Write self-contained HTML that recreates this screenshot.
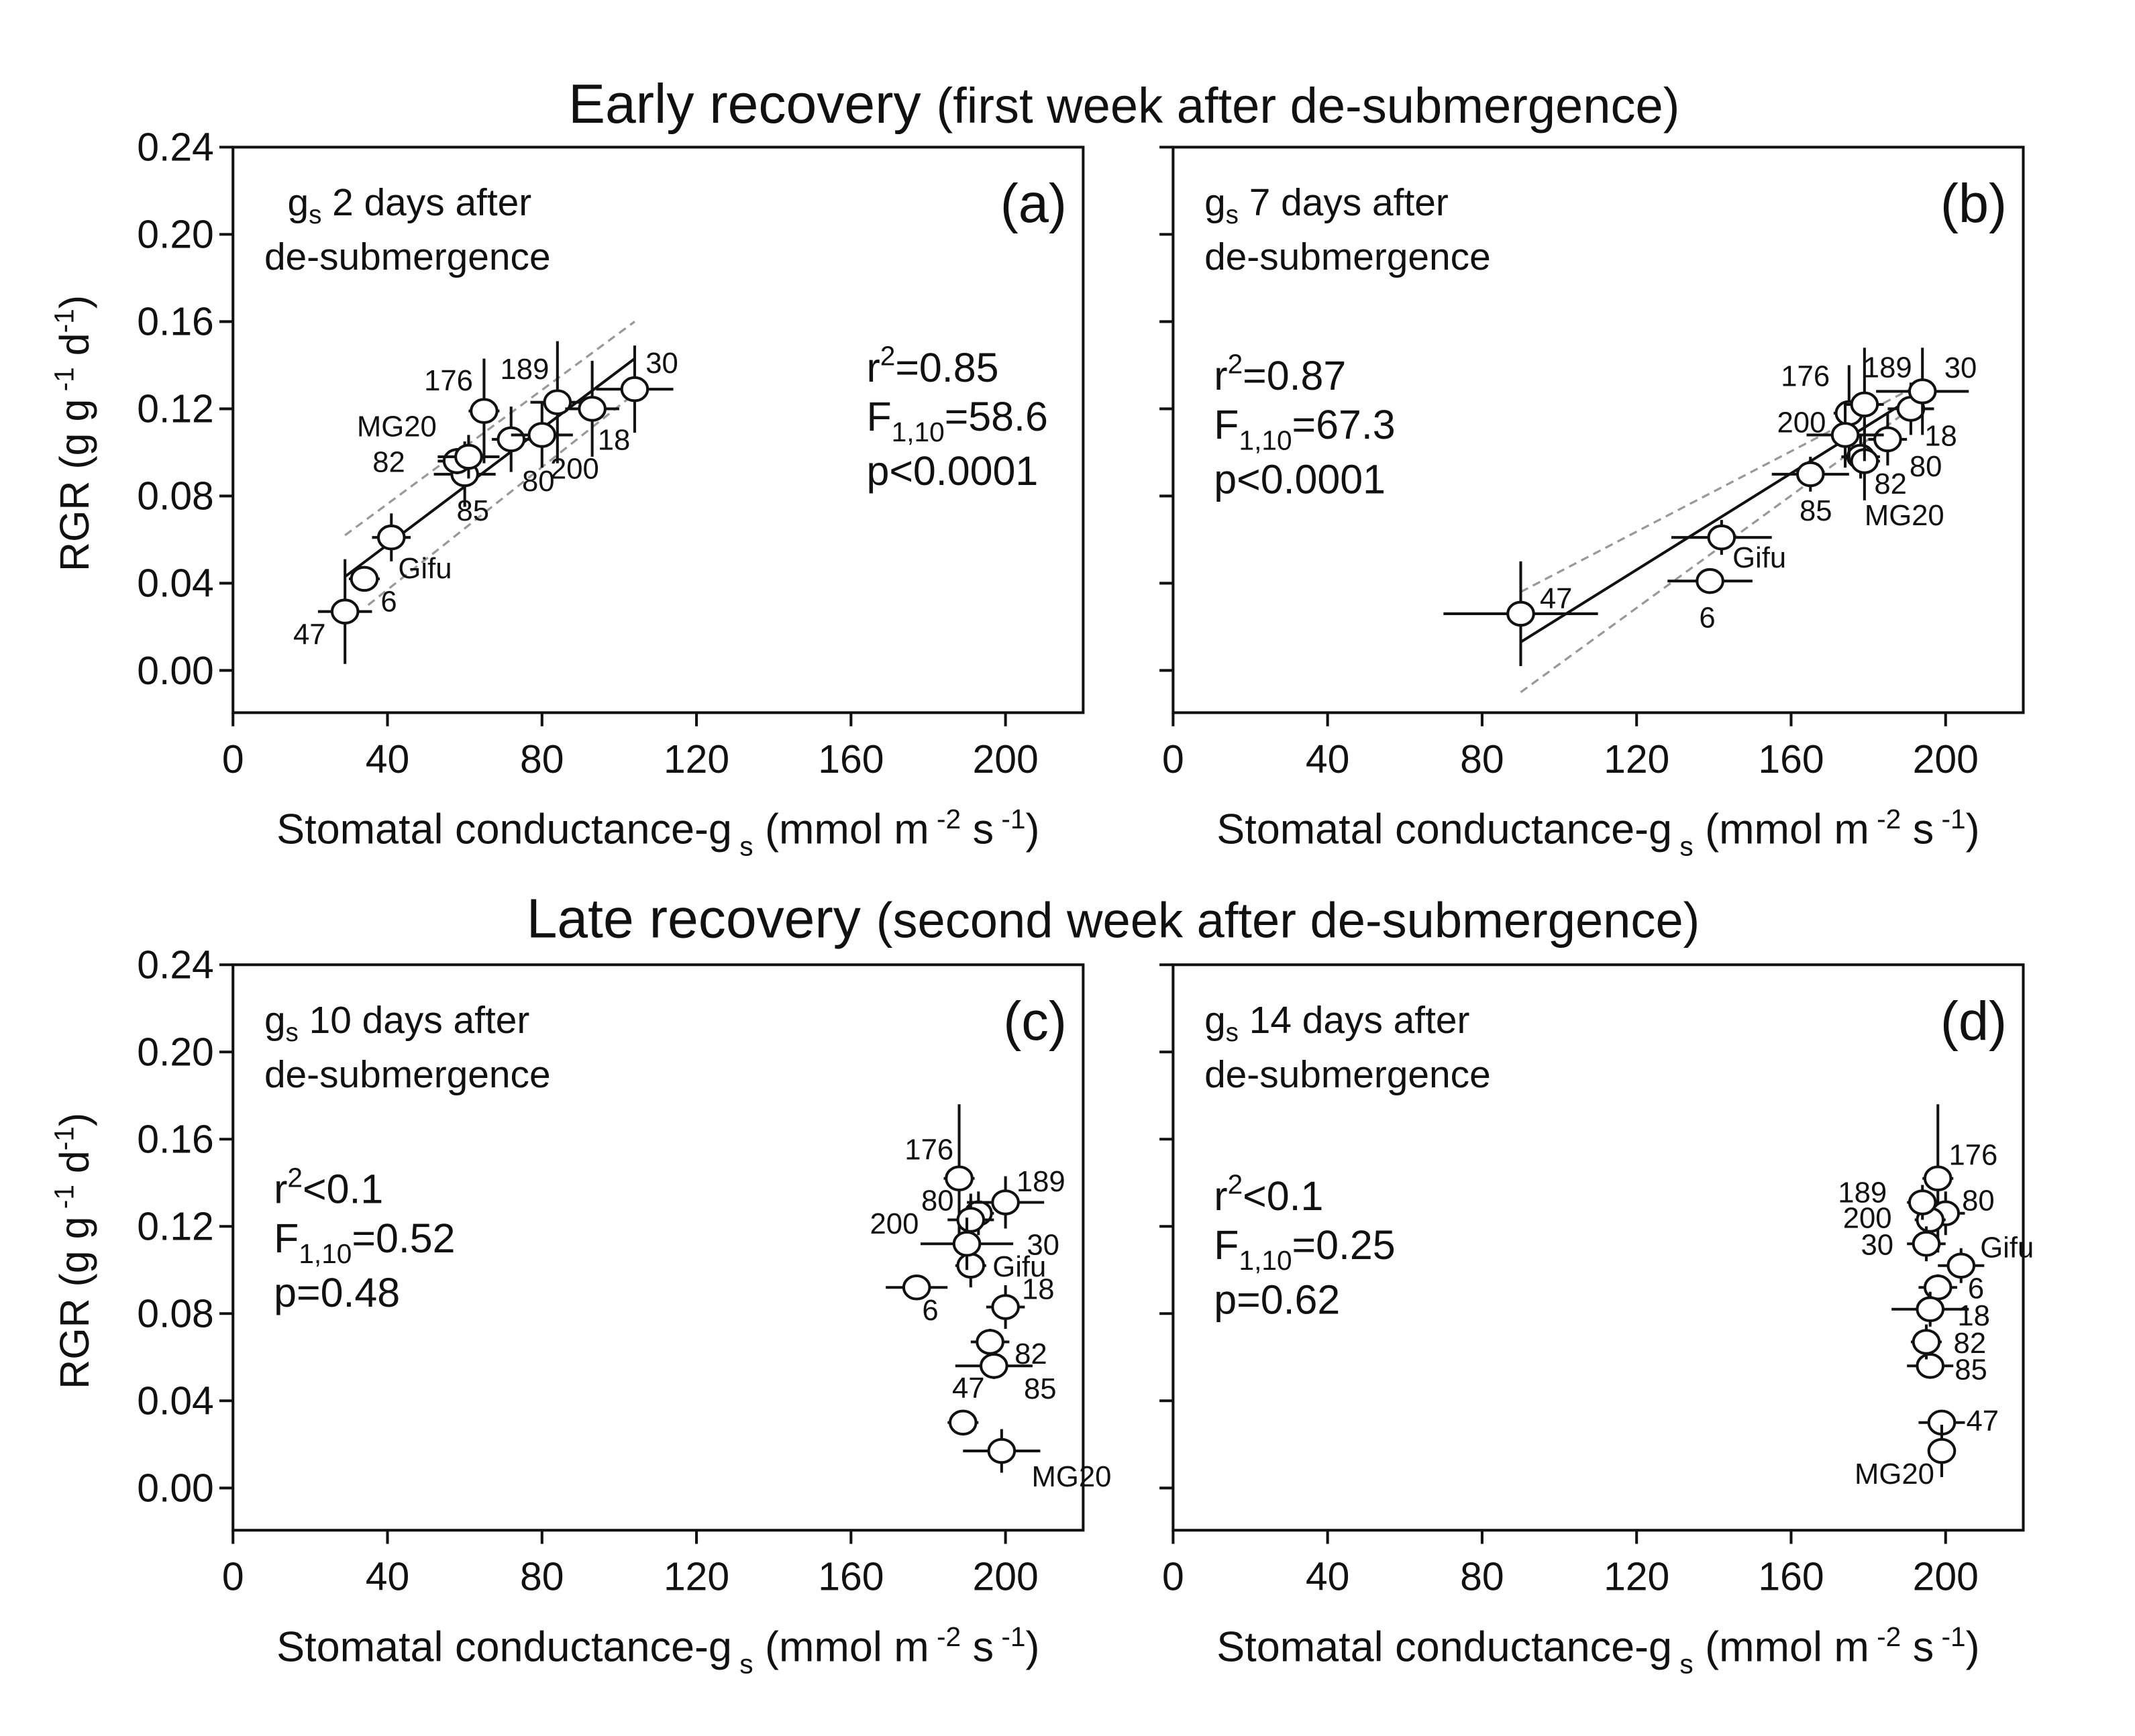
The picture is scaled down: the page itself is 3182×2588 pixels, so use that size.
<!DOCTYPE html>
<html><head><meta charset="utf-8"><style>
html,body{margin:0;padding:0;background:#fff}
svg{display:block}
text{font-family:"Liberation Sans",sans-serif;fill:#111}
</style></head><body>
<svg id="fig" width="3182" height="2588" viewBox="0 0 1567 1274" preserveAspectRatio="none" xmlns="http://www.w3.org/2000/svg">
<text x="825" y="90" font-size="40.5" text-anchor="middle">Early recovery <tspan font-size="36.5">(first week after de-submergence)</tspan></text>
<text x="817" y="688" font-size="40.5" text-anchor="middle">Late recovery <tspan font-size="36.5">(second week after de-submergence)</tspan></text>
</svg>
<script>
const genotypes=["47","6","Gifu","85","82","MG20","176","80","200","189","18","30"];
const xA=[29,34,41,60,58,61,65,72,80,84,93,104];
const yA=[0.027,0.042,0.061,0.090,0.096,0.098,0.119,0.106,0.108,0.123,0.120,0.129];
const xeA=[7,4,5,8,5,8,4,5,8,7,7,10];
const yeA=[0.024,0.003,0.011,0.015,0.006,0.010,0.024,0.015,0.015,0.028,0.022,0.020];
const xB=[90,139,142,165,178,179,175,185,174,179,191,194];
const yB=[0.026,0.041,0.061,0.090,0.098,0.096,0.118,0.106,0.108,0.122,0.120,0.128];
const xeB=[20,11,13,10,5,4,4,5,10,5,6,12];
const yeB=[0.024,0.002,0.008,0.008,0.010,0.018,0.022,0.012,0.015,0.026,0.012,0.020];
const xC=[189,177,191,197,196,199,188,193,191,200,200,190];
const yC=[0.030,0.092,0.102,0.056,0.067,0.017,0.142,0.126,0.123,0.131,0.083,0.112];
const xeC=[4,8,4,10,5,10,4,4,6,10,5,12];
const yeC=[0.005,0.005,0.010,0.006,0.006,0.010,0.034,0.010,0.012,0.012,0.010,0.012];
const xD=[199,198,204,196,195,199,198,200,196,194,196,195];
const yD=[0.030,0.092,0.102,0.056,0.067,0.017,0.142,0.126,0.123,0.131,0.082,0.112];
const xeD=[6,5,6,6,4,3,4,5,4,4,10,5];
const yeD=[0.005,0.006,0.008,0.005,0.008,0.012,0.034,0.010,0.008,0.008,0.008,0.008];
const fitA=[[29,0.043],[104,0.143]], upA=[[29,0.062],[104,0.160]], loA=[[35,0.030],[104,0.127]];
const fitB=[[90,0.013],[194,0.128]], upB=[[90,0.036],[192,0.130]], loB=[[90,-0.010],[194,0.124]];
const xTicks=[0,40,80,120,160,200];
const yTicks=[0.00,0.04,0.08,0.12,0.16,0.20,0.24];
// label offsets (px) per genotype
const offA=[[-38,24],[12,24],[5,30],[-6,34],[-62,8],[-82,-15],[-44,-15],[8,38],[6,32],[-42,-17],[4,30],[8,-12]];
const offB=[[14,-4],[-8,34],[8,22],[-8,34],[10,27],[0,47],[-50,-20],[16,27],[-50,-2],[-1,-20],[10,27],[16,-10]];
const offC=[[-8,-18],[4,24],[16,8],[22,24],[18,16],[22,26],[-40,-14],[-42,-2],[-74,10],[8,-8],[12,-6],[44,8]];
const offD=[[18,6],[22,8],[14,-6],[18,10],[20,8],[-64,24],[8,-10],[12,-2],[-64,6],[-62,0],[20,12],[-48,8]];
const NS="http://www.w3.org/2000/svg";
const svg=document.getElementById('fig');
function mk(tag,attrs,parent){const e=document.createElementNS(NS,tag);for(const k in attrs)e.setAttribute(k,attrs[k]);(parent||svg).appendChild(e);return e;}
function panel(p){
  const g=mk('g',{});
  
  
  const L=p.left,R=p.left+624,T=p.top,B=p.top+415;
  const sx=v=>L+v*(567/200);
  const sy=v=>(T+384)-v*(384/0.24);
  const fr=mk('rect',{x:L,y:T,width:R-L,height:B-T,fill:'none',stroke:'#111','stroke-width':2},g);
  
  
  xTicks.forEach(t=>{
    mk('line',{x1:sx(t),x2:sx(t),y1:B,y2:B+10,stroke:'#111','stroke-width':2},g);
    const tx=mk('text',{x:sx(t),y:B+44,'font-size':29,'text-anchor':'middle'},g);tx.textContent=t;
    
    
  });
  yTicks.forEach(t=>{
    mk('line',{x1:L-10,x2:L,y1:sy(t),y2:sy(t),stroke:'#111','stroke-width':2},g);
    if(p.ylab){const tx=mk('text',{x:L-14,y:sy(t)+10,'font-size':29,'text-anchor':'end'},g);tx.textContent=t.toFixed(2);
    
    }
  });
  const xt=mk('text',{x:L+312,y:B+96,'font-size':31,'text-anchor':'middle'},g);
  xt.innerHTML='Stomatal conductance-g<tspan font-size="20" dy="9"> s</tspan><tspan dy="-9"> (mmol m</tspan><tspan font-size="20" dy="-11"> -2</tspan><tspan dy="11"> s</tspan><tspan font-size="20" dy="-11"> -1</tspan><tspan dy="11">)</tspan>';
  
  
  if(p.ylab){
    const yt=mk('text',{x:0,y:0,'font-size':30,'text-anchor':'middle',transform:`translate(${L-106},${T+210}) rotate(-90)`},g);
    yt.innerHTML='RGR (g g<tspan font-size="20" dy="-11"> -1</tspan><tspan dy="11"> d</tspan><tspan font-size="20" dy="-11">-1</tspan><tspan dy="11">)</tspan>';
    
    
  }
  const pl=mk('text',{x:R-12,y:T+55,'font-size':40,'text-anchor':'end'},g);pl.textContent='('+p.letter+')';
  
  
  const d1=mk('text',{x:L+p.noteX,y:T+50,'font-size':28},g);
  d1.innerHTML='g<tspan font-size="19" dy="6">s</tspan><tspan dy="-6"> '+p.days+' days after</tspan>';
  
  
  const d2=mk('text',{x:L+23,y:T+90,'font-size':28},g);d2.textContent='de-submergence';
  
  
  const st=mk('text',{x:L+p.statX,y:T+p.statY,'font-size':30},g);
  st.innerHTML=`<tspan>r</tspan><tspan font-size="20" dy="-12">2</tspan><tspan dy="12">${p.r}</tspan>`+
   `<tspan x="${L+p.statX}" dy="36">F</tspan><tspan font-size="20" dy="8">1,10</tspan><tspan dy="-8">${p.F}</tspan>`+
   `<tspan x="${L+p.statX}" dy="40">${p.pv}</tspan>`;
  
  
  if(p.fit){
    [p.up,p.lo].forEach(b=>{const l=mk('line',{x1:sx(b[0][0]),y1:sy(b[0][1]),x2:sx(b[1][0]),y2:sy(b[1][1]),stroke:'#999','stroke-width':1.6,'stroke-dasharray':'6,4'},g);
      
      });
    const f=mk('line',{x1:sx(p.fit[0][0]),y1:sy(p.fit[0][1]),x2:sx(p.fit[1][0]),y2:sy(p.fit[1][1]),stroke:'#111','stroke-width':2},g);
    
    
  }
  genotypes.forEach((gn,i)=>{
    const cx=sx(p.x[i]),cy=sy(p.y[i]);
    const eg=mk('g',{},g);
    
    
    mk('line',{x1:sx(p.x[i]-p.xe[i]),x2:sx(p.x[i]+p.xe[i]),y1:cy,y2:cy,stroke:'#111','stroke-width':2},eg);
    mk('line',{x1:cx,x2:cx,y1:sy(p.y[i]-p.ye[i]),y2:sy(p.y[i]+p.ye[i]),stroke:'#111','stroke-width':2},eg);
    mk('ellipse',{cx:cx,cy:cy,rx:9.5,ry:8.5,fill:'#fff',stroke:'#111','stroke-width':2},eg);
    const t=mk('text',{x:cx+p.off[i][0],y:cy+p.off[i][1],'font-size':21.5},eg);t.textContent=gn;
  });
}
panel({letter:'a',left:171,top:108,ylab:true,x:xA,y:yA,xe:xeA,ye:yeA,fit:fitA,up:upA,lo:loA,off:offA,days:2,noteX:40,statX:465,statY:172,r:'=0.85',F:'=58.6',pv:'p&lt;0.0001'});
panel({letter:'b',left:861,top:108,ylab:false,x:xB,y:yB,xe:xeB,ye:yeB,fit:fitB,up:upB,lo:loB,off:offB,days:7,noteX:23,statX:30,statY:178,r:'=0.87',F:'=67.3',pv:'p&lt;0.0001'});
panel({letter:'c',left:171,top:708,ylab:true,x:xC,y:yC,xe:xeC,ye:yeC,off:offC,days:10,noteX:23,statX:30,statY:175,r:'&lt;0.1',F:'=0.52',pv:'p=0.48'});
panel({letter:'d',left:861,top:708,ylab:false,x:xD,y:yD,xe:xeD,ye:yeD,off:offD,days:14,noteX:23,statX:30,statY:180,r:'&lt;0.1',F:'=0.25',pv:'p=0.62'});
</script>
</body></html>
